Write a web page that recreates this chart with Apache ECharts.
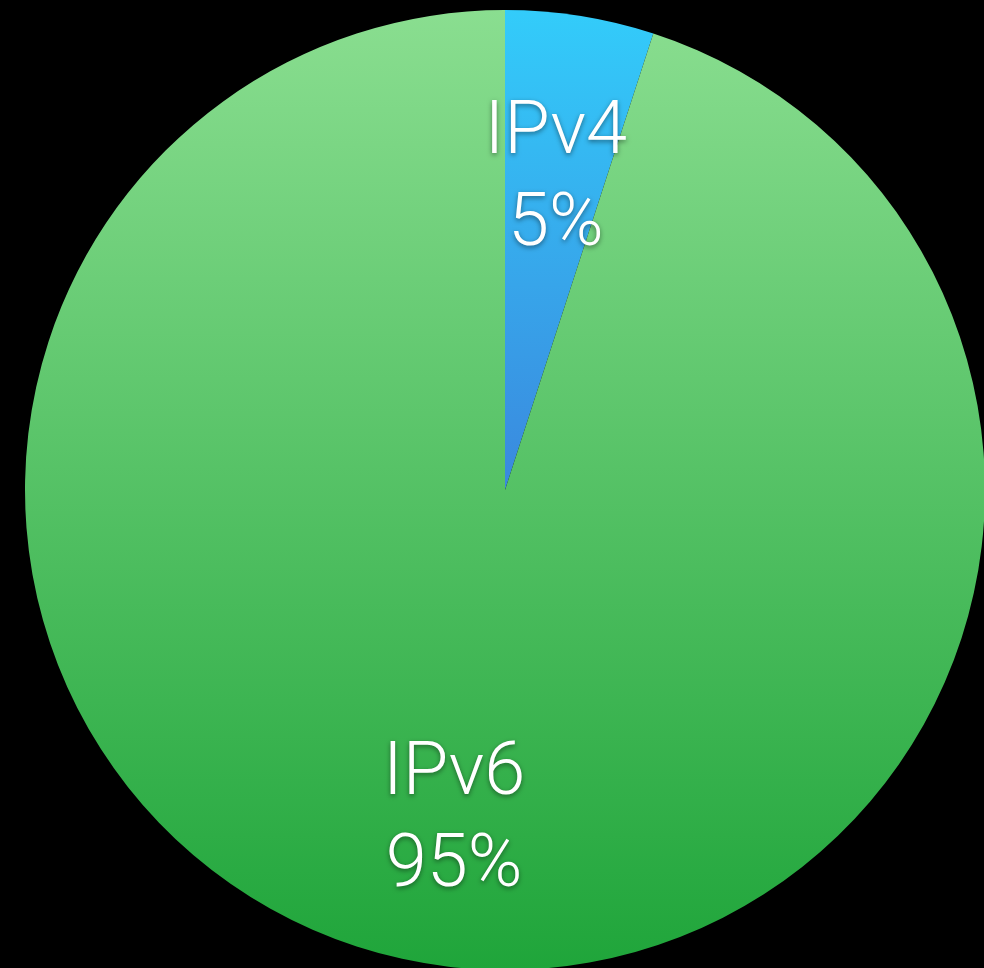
<!DOCTYPE html>
<html>
<head>
<meta charset="utf-8">
<script src="https://cdn.jsdelivr.net/npm/echarts@6/dist/echarts.min.js"></script>
<style>
  html, body { margin: 0; padding: 0; background: #000; }
  #main { width: 984px; height: 968px; }
</style>
</head>
<body>
<div id="main"></div>
<script>
const categories = ["IPv4", "IPv6"];
const values = [5, 95];
const gradients = [
  ["#33ccfa", "#3a88de"],
  ["#8ade90", "#1fa53a"]
];

const chart = echarts.init(document.getElementById("main"));

const sliceData = categories.map(function(name, i) {
  return {
    name: name,
    value: values[i],
    itemStyle: {
      color: new echarts.graphic.LinearGradient(0, 0, 0, 1, [
        { offset: 0, color: gradients[i][0] },
        { offset: 1, color: gradients[i][1] }
      ])
    }
  };
});

// same data again, transparent, only to place the labels further out
const labelData = categories.map(function(name, i) {
  return { name: name, value: values[i] };
});

const option = {
  backgroundColor: "#000",
  animation: false,
  series: [
    {
      type: "pie",
      center: [505, 490],
      radius: 480,
      startAngle: 90,
      silent: true,
      label: { show: false },
      labelLine: { show: false },
      itemStyle: { borderWidth: 0 },
      data: sliceData
    },
    {
      type: "pie",
      center: [505, 490],
      radius: [164, 480],
      startAngle: 90,
      silent: true,
      itemStyle: { color: "rgba(0,0,0,0)", borderWidth: 0 },
      labelLine: { show: false },
      label: {
        show: true,
        position: "inside",
        offset: [0, 11],
        formatter: "{b}\n{d}%",
        color: "#fff",
        fontFamily: "Roboto",
        fontWeight: 300,
        fontSize: 74,
        lineHeight: 92,
        textShadowColor: "rgba(0,0,0,0.45)",
        textShadowBlur: 5,
        textShadowOffsetY: 2
      },
      data: labelData
    }
  ]
};
chart.setOption(option);
</script>
</body>
</html>
